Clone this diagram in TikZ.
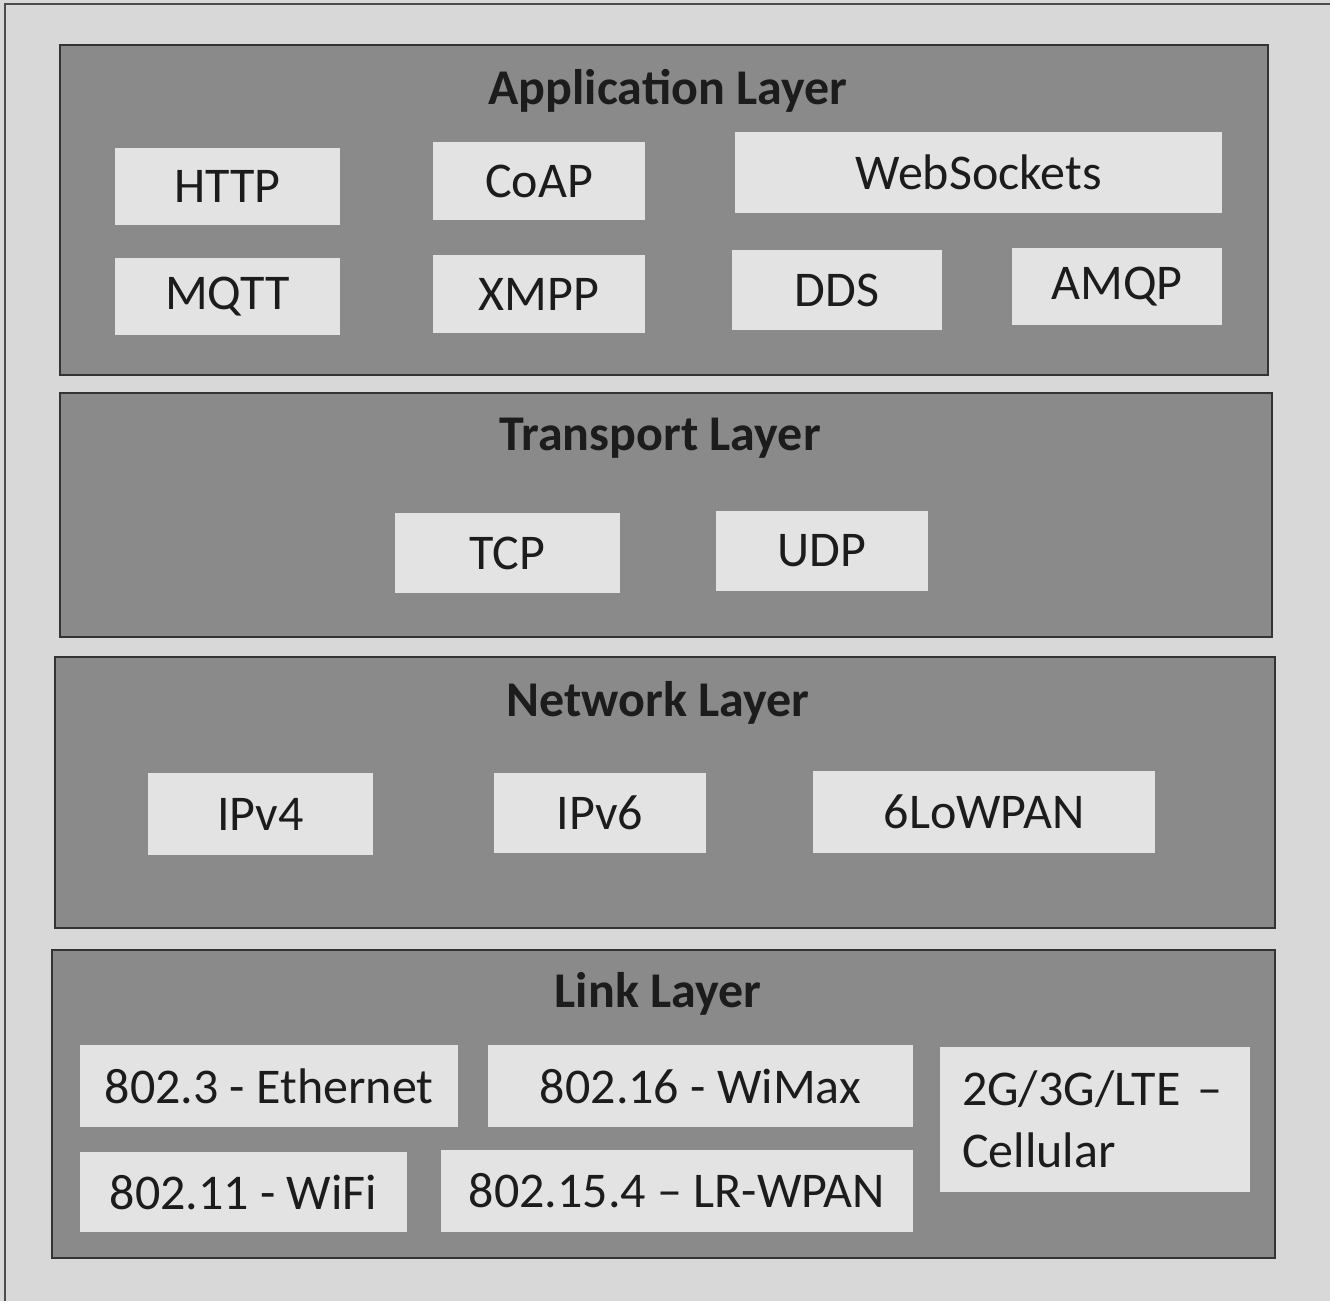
\documentclass[tikz,border=0pt]{standalone}
\usepackage{fontspec}
\setmainfont{Carlito}
\definecolor{bgc}{HTML}{D8D8D8}
\definecolor{layc}{HTML}{8A8A8A}
\definecolor{boxc}{HTML}{E3E3E3}
\definecolor{txtc}{HTML}{1C1C1C}
\begin{document}
\begin{tikzpicture}[x=0.5pt,y=-0.5pt,
  layer/.style={draw=black!80,line width=0.8pt,fill=layc,inner sep=0pt},
  ltitle/.style={text=txtc,font=\fontsize{25}{29}\selectfont\bfseries,inner sep=0pt},
  pbox/.style={fill=boxc,inner sep=0pt,text=txtc,font=\fontsize{25}{29}\selectfont}]
\fill[bgc] (0,0) rectangle (1330,1301);
\useasboundingbox (0,0) rectangle (1330,1301);
\draw[black!70,line width=0.6pt] (5,1301) -- (5,4) -- (1330,4);
% layers
\node[layer,minimum width=604pt,minimum height=165pt] (app) at (664,210) {};
\node[layer,minimum width=606pt,minimum height=122pt] (trans) at (666,515) {};
\node[layer,minimum width=610pt,minimum height=135.5pt] (net) at (665,792.5) {};
\node[layer,minimum width=611.5pt,minimum height=154pt] (link) at (663.5,1104) {};
% titles
\node[ltitle] (tapp) at (668,91) {Application Layer};
\node[ltitle] (ttrans) at (660,438) {Transport Layer};
\node[ltitle] (tnet) at (658,703) {Network Layer};
\node[ltitle] (tlink) at (658,994) {Link Layer};
% application
\node[pbox,minimum width=112.5pt,minimum height=38.5pt] (http) at (227.5,186.5) {HTTP};
\node[pbox,minimum width=106pt,minimum height=39pt] (coap) at (539,181) {CoAP};
\node[pbox,minimum width=243.5pt,minimum height=40.5pt] (ws) at (978.5,172.5) {WebSockets};
\node[pbox,minimum width=112.5pt,minimum height=38.5pt] (mqtt) at (227.5,296.5) {MQTT};
\node[pbox,minimum width=106pt,minimum height=39pt] (xmpp) at (539,294) {XMPP};
\node[pbox,minimum width=105pt,minimum height=40pt] (dds) at (837,290) {DDS};
\node[pbox,minimum width=105pt,minimum height=38.5pt] (amqp) at (1117,286.5) {AMQP};
% transport
\node[pbox,minimum width=112.5pt,minimum height=40pt] (tcp) at (507.5,553) {TCP};
\node[pbox,minimum width=106pt,minimum height=40pt] (udp) at (822,551) {UDP};
% network
\node[pbox,minimum width=112.5pt,minimum height=41pt] (ipv4) at (260.5,814) {IPv4};
\node[pbox,minimum width=106pt,minimum height=40pt] (ipv6) at (600,813) {IPv6};
\node[pbox,minimum width=171pt,minimum height=41pt] (lowpan) at (984,812) {6LoWPAN};
% link
\node[pbox,minimum width=189pt,minimum height=41pt] (eth) at (269,1086) {802.3 - Ethernet};
\node[pbox,minimum width=212.5pt,minimum height=41pt] (wimax) at (700.5,1086) {802.16 - WiMax};
\node[pbox,minimum width=155pt,minimum height=72.5pt,inner xsep=11pt,text width=133pt,align=left,font=\fontsize{25}{31}\selectfont] (cell) at (1095,1119.5) {2G/3G/LTE –\\Cellular};
\node[pbox,minimum width=163.5pt,minimum height=40pt] (wifi) at (243.5,1192) {802.11 - WiFi};
\node[pbox,minimum width=236pt,minimum height=41pt] (wpan) at (677,1191) {802.15.4 – LR-WPAN};
\end{tikzpicture}
\end{document}
